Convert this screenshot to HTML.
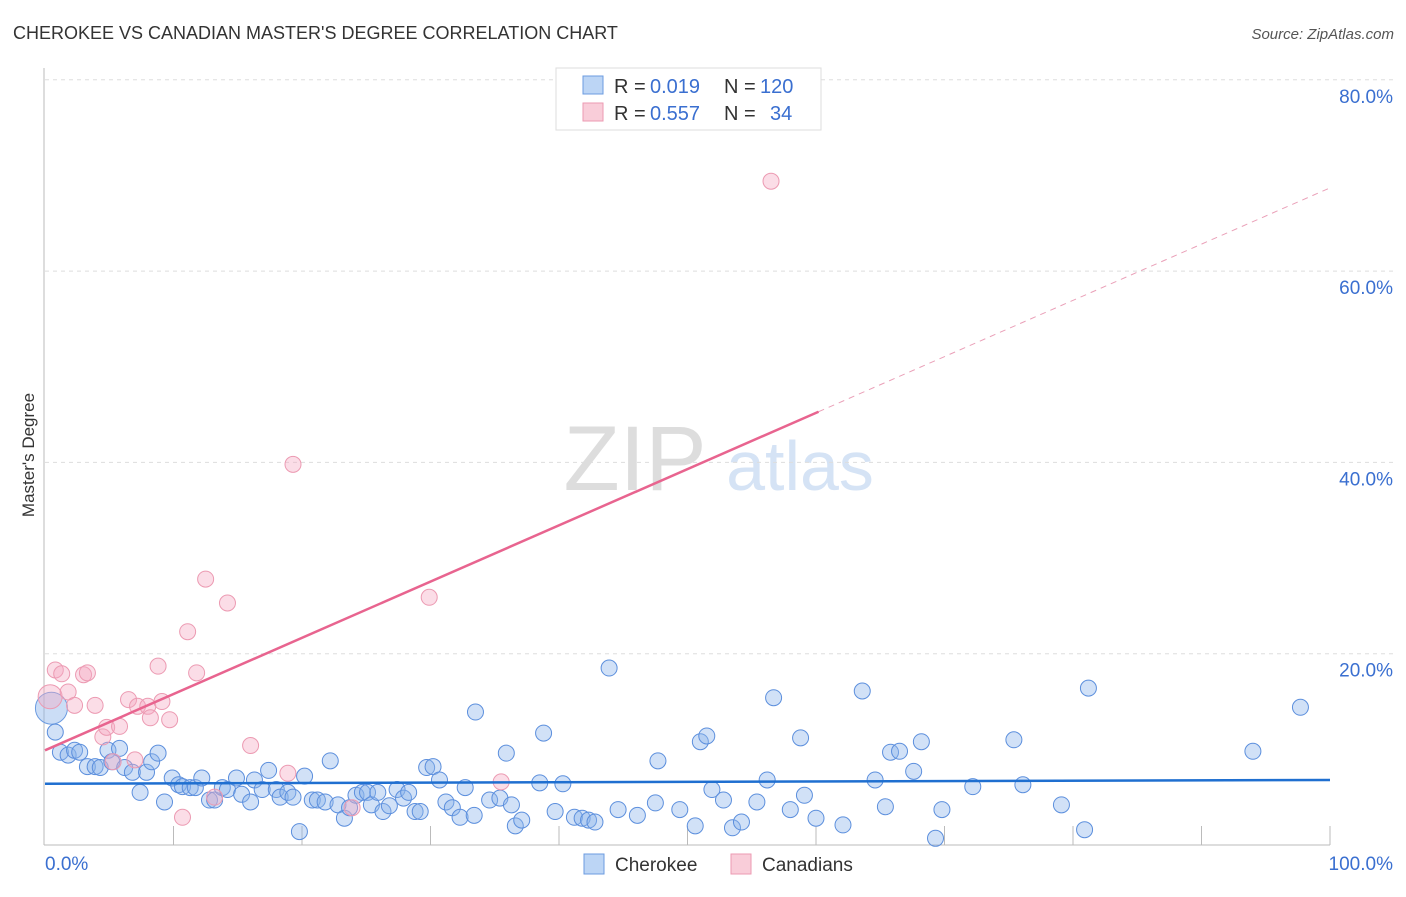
<!DOCTYPE html>
<html><head><meta charset="utf-8"><style>
body{margin:0;background:#fff;font-family:"Liberation Sans",sans-serif}
svg text{font-family:"Liberation Sans",sans-serif}
</style></head><body>
<svg width="1406" height="892" xmlns="http://www.w3.org/2000/svg">
<text x="13" y="39" font-size="18" fill="#333">CHEROKEE VS CANADIAN MASTER'S DEGREE CORRELATION CHART</text>
<text x="1394" y="39" font-size="15" fill="#555" font-style="italic" text-anchor="end">Source: ZipAtlas.com</text>
<text x="34" y="455" font-size="17" fill="#333" text-anchor="middle" transform="rotate(-90 34 455)">Master's Degree</text>
<g>
<text x="635" y="490" font-size="92" fill="#ddd" font-family="Liberation Serif" text-anchor="middle">ZIP</text>
<text x="800" y="490" font-size="70" fill="#d5e3f5" text-anchor="middle">atlas</text>
</g>
<g id="grid"></g><g id="axes"></g><g id="pts"></g><g id="lines"></g>
<g>
<rect x="556" y="68" width="265" height="62" fill="#fff" stroke="#ddd"/>
<rect x="583" y="76" width="20" height="18" fill="#bcd5f5" stroke="#6b9be0"/>
<rect x="583" y="103" width="20" height="18" fill="#f9cdd9" stroke="#ec9ab2"/>
<text x="614" y="93" font-size="20" fill="#333">R =</text>
<text x="650" y="93" font-size="20" fill="#3a6fd0">0.019</text>
<text x="724" y="93" font-size="20" fill="#333">N =</text>
<text x="760" y="93" font-size="20" fill="#3a6fd0">120</text>
<text x="614" y="120" font-size="20" fill="#333">R =</text>
<text x="650" y="120" font-size="20" fill="#3a6fd0">0.557</text>
<text x="724" y="120" font-size="20" fill="#333">N =</text>
<text x="770" y="120" font-size="20" fill="#3a6fd0">34</text>
</g>
<g>
<rect x="584" y="854" width="20" height="20" fill="#bcd5f5" stroke="#6b9be0"/>
<text x="615" y="871" font-size="19" fill="#333">Cherokee</text>
<rect x="731" y="854" width="20" height="20" fill="#f9cdd9" stroke="#ec9ab2"/>
<text x="762" y="871" font-size="19" fill="#333">Canadians</text>
</g>
</svg>
<script>
const yTicks=[20,40,60,80];
const xTickLabels=["0.0%","100.0%"];
const blueX=[0.8,1.2,1.8,2.3,2.7,3.3,3.9,4.3,4.9,5.2,5.8,6.2,6.8,7.4,7.9,8.3,8.8,9.3,9.9,10.4,10.7,11.3,11.7,12.2,12.8,13.2,13.8,14.2,14.9,15.3,16.0,16.3,16.9,17.4,18.0,18.3,18.9,19.3,19.8,20.2,20.8,21.2,21.8,22.2,22.8,23.3,23.7,24.2,24.7,25.1,25.4,25.9,26.3,26.8,27.4,27.9,28.3,28.8,29.2,29.7,30.2,30.7,31.2,31.7,32.3,32.7,33.4,33.5,34.6,35.4,35.9,36.3,36.6,37.1,38.5,38.8,39.7,40.3,41.2,41.8,42.3,42.8,43.9,44.6,46.1,47.5,47.7,49.4,50.6,51.0,51.5,51.9,52.8,53.5,54.2,55.4,56.2,56.7,58.0,58.8,59.1,60.0,62.1,63.6,64.6,65.4,65.8,66.5,67.6,68.2,69.3,69.8,72.2,75.4,76.1,79.1,80.9,81.2,94.0,97.7];
const blueY=[11.8,9.7,9.4,9.9,9.7,8.2,8.2,8.1,9.9,8.7,10.1,8.1,7.6,5.5,7.6,8.7,9.6,4.5,7.0,6.3,6.1,6.0,6.0,7.0,4.7,4.7,6.0,5.8,7.0,5.3,4.5,6.8,5.8,7.8,5.8,5.0,5.5,5.0,1.4,7.2,4.7,4.7,4.5,8.8,4.2,2.8,3.9,5.2,5.5,5.5,4.2,5.5,3.5,4.1,5.8,4.9,5.5,3.5,3.5,8.1,8.2,6.8,4.5,3.9,2.9,6.0,3.1,13.9,4.7,4.9,9.6,4.2,2.0,2.6,6.5,11.7,3.5,6.4,2.9,2.8,2.6,2.4,18.5,3.7,3.1,4.4,8.8,3.7,2.0,10.8,11.4,5.8,4.7,1.8,2.4,4.5,6.8,15.4,3.7,11.2,5.2,2.8,2.1,16.1,6.8,4.0,9.7,9.8,7.7,10.8,0.7,3.7,6.1,11.0,6.3,4.2,1.6,16.4,9.8,14.4];
const pinkX=[0.8,1.3,1.8,2.3,3.0,3.3,3.9,4.5,4.8,5.8,5.3,6.5,7.2,8.0,8.2,8.8,9.1,9.7,7.0,10.7,11.1,11.8,12.5,13.2,14.2,16.0,18.9,19.3,23.9,29.9,35.5,56.5];
const pinkY=[18.3,17.9,16.0,14.6,17.8,18.0,14.6,11.3,12.3,12.4,8.7,15.2,14.5,14.5,13.3,18.7,15.0,13.1,8.9,2.9,22.3,18.0,27.8,5.0,25.3,10.4,7.5,39.8,3.9,25.9,6.6,69.4];
const blueFit=[6.4,6.8];
const pinkFit=[9.9,68.7];
const NS="http://www.w3.org/2000/svg";
const X=v=>45+v*12.85, Y=v=>845-v*9.565;
function mk(t,a,p){const e=document.createElementNS(NS,t);for(const k in a)e.setAttribute(k,a[k]);p.appendChild(e);return e;}
const grid=document.getElementById('grid'),axes=document.getElementById('axes'),pts=document.getElementById('pts'),lines=document.getElementById('lines');
yTicks.forEach(t=>{
const l=mk('line',{x1:45,x2:1394,y1:Y(t),y2:Y(t),stroke:'#ddd','stroke-dasharray':'4,4'},grid);


const tx=mk('text',{x:1393,y:Y(t)+23,'font-size':19,fill:'#3a6fd0','text-anchor':'end'},axes);tx.textContent=t.toFixed(1)+'%';


});
const ya=mk('line',{x1:44,x2:44,y1:68,y2:845,stroke:'#bbb'},axes);


const xa=mk('line',{x1:44,x2:1330,y1:845,y2:845,stroke:'#bbb'},axes);


for(let i=1;i<=10;i++){const t=mk('line',{x1:X(i*10),x2:X(i*10),y1:826,y2:845,stroke:'#bbb'},axes);

}
const l0=mk('text',{x:45,y:870,'font-size':19,fill:'#3a6fd0'},axes);l0.textContent=xTickLabels[0];


const l1=mk('text',{x:1393,y:870,'font-size':19,fill:'#3a6fd0','text-anchor':'end'},axes);l1.textContent=xTickLabels[1];


const bb=mk('circle',{cx:X(0.5),cy:Y(14.3),r:16,fill:'rgba(140,180,235,0.45)',stroke:'#6b9be0'},pts);


const pb=mk('circle',{cx:X(0.4),cy:Y(15.5),r:12,fill:'rgba(245,170,195,0.4)',stroke:'#ec9ab2'},pts);


blueX.forEach((x,i)=>{const c=mk('circle',{cx:X(x),cy:Y(blueY[i]),r:8,fill:'rgba(140,180,235,0.4)',stroke:'#5c8fdd','stroke-width':1},pts);

});
pinkX.forEach((x,i)=>{const c=mk('circle',{cx:X(x),cy:Y(pinkY[i]),r:8,fill:'rgba(245,170,195,0.4)',stroke:'#ec9ab2','stroke-width':1},pts);

});
const bl=mk('line',{x1:X(0),y1:Y(blueFit[0]),x2:X(100),y2:Y(blueFit[1]),stroke:'#1f6fd0','stroke-width':2.5},lines);


const pe=60.2, pm=pinkFit[0]+(pinkFit[1]-pinkFit[0])*pe/100;
const pl=mk('line',{x1:X(0),y1:Y(pinkFit[0]),x2:X(pe),y2:Y(pm),stroke:'#e8648f','stroke-width':2.5},lines);


const pd=mk('line',{x1:X(pe),y1:Y(pm),x2:X(100),y2:Y(pinkFit[1]),stroke:'#eaa0b8','stroke-width':1,'stroke-dasharray':'6,5'},lines);


</script>
</body></html>
